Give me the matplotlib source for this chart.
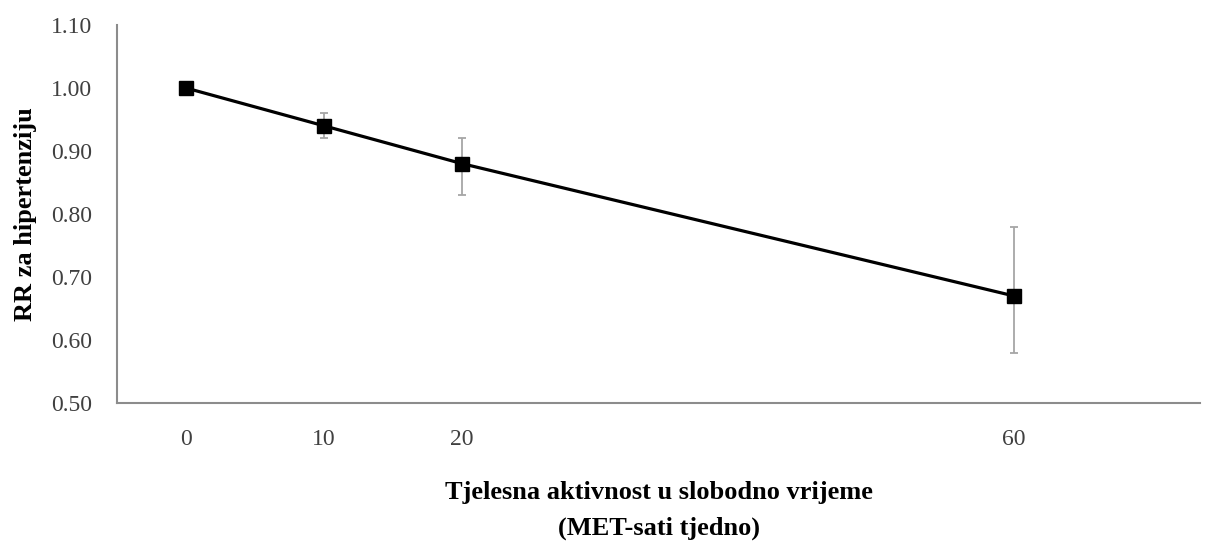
import matplotlib
matplotlib.use("Agg")
import matplotlib.pyplot as plt

met_hours = [0, 10, 20, 60]
rr = [1.00, 0.94, 0.88, 0.67]
ci_low = [1.00, 0.92, 0.83, 0.58]
ci_high = [1.00, 0.96, 0.92, 0.78]
x_ticks = [0, 10, 20, 60]
y_ticks = [0.50, 0.60, 0.70, 0.80, 0.90, 1.00, 1.10]

plt.rcParams['font.family'] = ['Liberation Serif', 'DejaVu Serif']

fig = plt.figure(figsize=(12.05, 5.43), dpi=100)
ax = fig.add_axes([117/1205, 1-403/543, (1200-117)/1205, (403-25)/543])

yerr = [[r - l for r, l in zip(rr, ci_low)], [h - r for r, h in zip(rr, ci_high)]]
ax.errorbar(met_hours, rr, yerr=yerr, fmt='none', ecolor='#a6a6a6', elinewidth=1.3,
            capsize=2.7, capthick=1.3, zorder=2)
ax.plot(met_hours, rr, color='black', linewidth=2.3, marker='s', markersize=10,
        markerfacecolor='black', markeredgecolor='black', zorder=3)

ax.set_xlim(-5, 73.5)
ax.set_ylim(0.50, 1.10)
ax.set_xticks(x_ticks)
ax.set_xticklabels([str(v) for v in x_ticks])
ax.set_yticks(y_ticks)
ax.set_yticklabels([f"{v:.2f}" for v in y_ticks])
ax.tick_params(axis='both', length=0, labelsize=17, labelcolor='#404040')
ax.tick_params(axis='x', pad=19)
ax.tick_params(axis='y', pad=18)

for s in ['top', 'right']:
    ax.spines[s].set_visible(False)
for s in ['left', 'bottom']:
    ax.spines[s].set_color('#8c8c8c')
    ax.spines[s].set_linewidth(1.5)

ax.set_ylabel('RR za hipertenziju', fontsize=19, fontweight='bold', labelpad=10)
ax.set_xlabel('Tjelesna aktivnost u slobodno vrijeme\n(MET-sati tjedno)', fontsize=19,
              fontweight='bold', labelpad=22, linespacing=1.7)

fig.savefig('out.png', dpi=100, facecolor='white')
